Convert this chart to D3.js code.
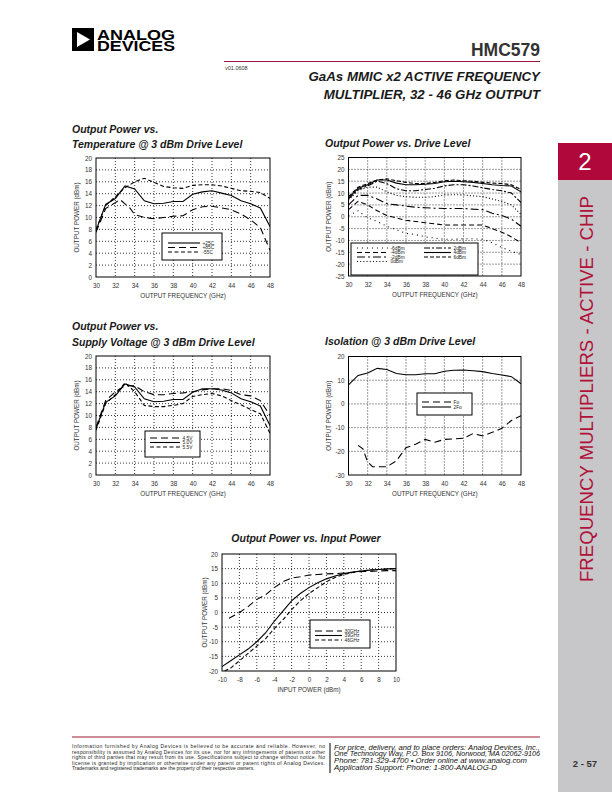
<!DOCTYPE html>
<html><head><meta charset="utf-8">
<script src="https://cdn.jsdelivr.net/npm/d3@7"></script>
<style>
body{margin:0;background:#fff;}
svg{display:block;font-family:"Liberation Sans",Arial,sans-serif;}
</style></head><body>
<svg id="page" width="612" height="792"></svg>
<script>
// ---------------- DATA ----------------
const freqGHz = [30,31,32,33,34,35,36,37,38,39,40,41,42,43,44,45,46,47,48];
const freqTicks = [30,32,34,36,38,40,42,44,46,48];

// Output Power vs Temperature
const temp25C  = [7.8,12.2,13.2,15.3,14.8,12.8,12.3,12.4,12.7,12.7,13.9,14.3,14.5,14.1,13.7,12.8,12.3,11.6,8.5];
const temp85Freq = [30,31,32,32.5,33,33.5,34,35,36,37,38,39,40,41,42,43,44,45,46,47,48];
const temp85C  = [7.5,11.5,12.5,13.0,12.3,11.6,10.5,10.0,9.8,10.0,10.2,10.3,11.3,11.8,11.9,11.6,11.3,10.6,9.6,8.3,4.5];
const tempM55C = [8.0,12.0,13.5,15.0,16.0,16.6,15.9,15.2,15.0,14.9,15.4,15.5,15.5,15.3,14.9,14.5,14.4,14.2,13.2];
const tempTicksY = [0,2,4,6,8,10,12,14,16,18,20];
const tempLabels = ["+25C","+85C","-55C"];

// Output Power vs Drive Level
const drvM6 = [0.5,2.5,-0.5,-2,-4,-5.5,-7,-7.5,-8.5,-9,-9.5,-9.5,-9.3,-9.3,-9.5,-11,-13,-14.5,-16];
const drvM4 = [3,6.5,5,2.5,0.5,-0.5,-1.5,-2,-2.5,-3,-3.5,-3.5,-3.5,-3.5,-3.5,-5,-6.5,-8.5,-11];
const drvM2 = [5,9,9,7.5,5.5,5,4.5,4,3.8,3.6,3.5,3.5,3.5,3.2,3,1.5,0.5,-1,-4];
const drv0  = [7,11,12.5,12.5,10.5,9,8.5,8.2,8.2,8.5,9.2,9.3,9.2,8.8,8.5,7.5,6.5,5,1];
const drv2  = [7.5,11.5,13,15,14,11.8,11,11,11.5,12,13,13.5,13.5,13,12.2,11.5,11,10,6];
const drv4  = [8,12,13.5,15.5,15.5,14.2,13.5,13.5,13.7,14,14.8,15,14.8,14.5,14,13.5,13.2,13,10.5];
const drv6  = [8.5,12.5,14,15.5,16,15.2,14.5,14,14,14.5,15.2,15.5,15.2,15,14.5,14.2,14,13.5,11.5];
const drvTicksY = [-25,-20,-15,-10,-5,0,5,10,15,20,25];
const drvLabels = ["-6dBm","-4dBm","-2dBm","0dBm","2dBm","4dBm","6dBm"];

// Output Power vs Supply Voltage
const volt45 = [8,12.5,14,15,15,14,13.5,13.5,13.7,13.8,14,14.3,14.5,14.5,14.2,13.5,13.3,12.5,10];
const volt50 = [7.8,12.2,13.3,15.3,14.8,12.8,12.3,12.4,12.7,12.7,13.9,14.5,14.5,14.3,13.8,12.8,12.3,11.6,8.3];
const volt55 = [7.5,12,13.5,15.5,14,11.7,11.5,11.5,11.7,12,13.2,13.5,13.7,13.3,12.5,11.8,11,10.3,7];
const voltLabels = ["4.5V","5.0V","5.5V"];

// Isolation
const iso2Fo = [8,12,13,15,14.5,12.8,12.3,12.3,12.7,12.7,13.8,14.2,14.3,14,13.6,12.8,12.2,11.5,8.5];
const isoFoFreq = [31,31.5,32,32.5,33,34,35,36,37,38,39,40,41,42,43,44,45,46,47,48];
const isoFo = [-17.5,-19,-24.5,-26.5,-26.5,-26.5,-24,-18.5,-17,-15,-16.2,-15,-14.8,-14.5,-12.5,-13.5,-12,-10.3,-7,-5];
const isoTicksY = [-30,-20,-10,0,10,20];
const isoLabels = ["Fo","2Fo"];

// Output Power vs Input Power
const pinDbm = [-10,-9,-8,-7,-6,-5,-4,-3,-2,-1,0,1,2,3,4,5,6,7,8,9,10];
const pin30In = [-9.2,-8,-7,-6,-5,-4,-3,-2,-1,0,1,2,3,4,5,6,7,8,9,10];
const pin30Out = [-2,0,2,4.5,6,8.5,10.5,11.8,12.2,12.8,13,13.2,13.3,13.5,13.7,14,14,14.2,14.3,14.3];
const pin39Out = [-18.5,-16.5,-14.5,-12.5,-10,-7,-3,0.5,4,6.5,8.5,10.2,11.5,12.5,13.3,13.8,14.2,14.5,14.7,14.9,15];
const pin46In = [-9.7,-9,-8,-7,-6,-5,-4,-3,-2,-1,0,1,2,3,4,5,6,7,8,9,10];
const pin46Out = [-20,-19,-16.5,-14,-11.5,-9,-5.5,-2.5,1,4,6.5,8.5,10.5,12,13,13.7,14.2,14.5,14.7,14.8,15];
const pinTicksX = [-10,-8,-6,-4,-2,0,2,4,6,8,10];
const pinTicksY = [-20,-15,-10,-5,0,5,10,15,20];
const pinLabels = ["30GHz","39GHz","46GHz"];

// ---------------- DRAWING ----------------
const FONT = '"Liberation Sans",Arial,sans-serif';
const svg = d3.select('#page');
const defs = svg.append('defs');
const RED = '#b0103a';

const DASH = {solid:null, long:'7,4', short:'4,2.5', dots:'1,4', fine:'1,2.2', med:'5,3', dashdot:'8,3,2,3', dashdot2:'6,2,2,2', short2:'4,2'};

function drawChart(o){
  const g = svg.append('g');
  const x = d3.scaleLinear().domain(o.xDomain).range([o.left,o.right]);
  const y = d3.scaleLinear().domain(o.yDomain).range([o.bottom,o.top]);
  g.selectAll('.vg').data(o.xTicks.slice(1,-1)).join('line')
    .attr('x1',d=>x(d)).attr('x2',d=>x(d)).attr('y1',o.top).attr('y2',o.bottom)
    .attr('stroke','#000').attr('stroke-width',0.8).attr('stroke-dasharray','1,2');
  g.selectAll('.hg').data(o.yTicks.slice(1,-1)).join('line')
    .attr('y1',d=>y(d)).attr('y2',d=>y(d)).attr('x1',o.left).attr('x2',o.right)
    .attr('stroke','#000').attr('stroke-width',0.8).attr('stroke-dasharray','1,2');
  const ax = g.append('g').attr('transform',`translate(0,${o.bottom})`)
    .call(d3.axisBottom(x).tickValues(o.xTicks).tickSize(0).tickPadding(7).tickFormat(d=>String(d)));
  const ay = g.append('g').attr('transform',`translate(${o.left},0)`)
    .call(d3.axisLeft(y).tickValues(o.yTicks).tickSize(0).tickPadding(4).tickFormat(d=>String(d)));
  [ax,ay].forEach(a=>{
    a.select('.domain').remove();
    a.attr('font-family',FONT).attr('font-size',6.3).attr('color','#333');
  });
  const cid = 'clip'+o.id;
  defs.append('clipPath').attr('id',cid).append('rect')
    .attr('x',o.left).attr('y',o.top).attr('width',o.right-o.left).attr('height',o.bottom-o.top);
  const line = d3.line().x(d=>x(d[0])).y(d=>y(d[1]));
  o.series.forEach(s=>{
    g.append('path').datum(s.x.map((v,i)=>[v,s.y[i]]))
      .attr('d',line).attr('fill','none').attr('stroke','#000').attr('stroke-width',1.1)
      .attr('stroke-dasharray',DASH[s.dash]).attr('clip-path',`url(#${cid})`);
  });
  const L = o.legend;
  g.append('rect').attr('x',L.x0).attr('y',L.y0).attr('width',L.x1-L.x0).attr('height',L.y1-L.y0)
    .attr('fill','#fff').attr('stroke','#000').attr('stroke-width',1);
  L.items.forEach(it=>{
    g.append('line').attr('x1',it.lx0).attr('x2',it.lx1).attr('y1',it.y).attr('y2',it.y)
      .attr('stroke','#000').attr('stroke-width',1.1).attr('stroke-dasharray',DASH[it.dash]);
    g.append('text').attr('x',it.lx1+2.5).attr('y',it.y+1.8).text(it.label)
      .attr('font-size',4.8).attr('font-family',FONT).attr('fill','#222');
  });
  g.append('rect').attr('x',o.left).attr('y',o.top).attr('width',o.right-o.left).attr('height',o.bottom-o.top)
    .attr('fill','none').attr('stroke','#000').attr('stroke-width',1);
  g.append('text').attr('x',(o.left+o.right)/2).attr('y',o.bottom+21).attr('text-anchor','middle')
    .attr('font-size',6.3).attr('font-family',FONT).attr('fill','#333').text(o.xTitle);
  g.append('text').attr('transform',`translate(${o.yTitleX},${(o.top+o.bottom)/2}) rotate(-90)`)
    .attr('text-anchor','middle').attr('font-size',6.3).attr('font-family',FONT).attr('fill','#333').text('OUTPUT POWER (dBm)');
  o.titles.forEach(t=>{
    g.append('text').attr('x',t.x).attr('y',t.y).attr('text-anchor',t.anchor||'start')
      .attr('font-size',10.5).attr('font-weight','bold').attr('font-style','italic')
      .attr('font-family',FONT).attr('fill','#1a1a1a').text(t.text);
  });
}

drawChart({id:1,left:96,right:270,top:158,bottom:277,xDomain:[30,48],yDomain:[0,20],
  xTicks:freqTicks,yTicks:tempTicksY,yTitleX:78.5,xTitle:'OUTPUT FREQUENCY (GHz)',
  titles:[{x:72,y:133,text:'Output Power vs.'},{x:72,y:148,text:'Temperature @ 3 dBm Drive Level'}],
  series:[{x:freqGHz,y:temp25C,dash:'solid'},{x:temp85Freq,y:temp85C,dash:'long'},{x:freqGHz,y:tempM55C,dash:'short'}],
  legend:{x0:162,y0:233,x1:222,y1:260,items:[
    {lx0:168,lx1:200,y:243,dash:'solid',label:tempLabels[0]},
    {lx0:168,lx1:200,y:247.5,dash:'long',label:tempLabels[1]},
    {lx0:168,lx1:200,y:252,dash:'short',label:tempLabels[2]}]}
});

drawChart({id:2,left:348.5,right:521,top:157.5,bottom:276,xDomain:[30,48],yDomain:[-25,25],
  xTicks:freqTicks,yTicks:drvTicksY,yTitleX:330.5,xTitle:'OUTPUT FREQUENCY (GHz)',
  titles:[{x:325,y:147,text:'Output Power vs. Drive Level'}],
  series:[{x:freqGHz,y:drvM6,dash:'dots'},{x:freqGHz,y:drvM4,dash:'med'},{x:freqGHz,y:drvM2,dash:'dashdot'},
          {x:freqGHz,y:drv0,dash:'fine'},{x:freqGHz,y:drv2,dash:'dashdot2'},{x:freqGHz,y:drv4,dash:'solid'},{x:freqGHz,y:drv6,dash:'short2'}],
  legend:{x0:351,y0:243,x1:478,y1:275,items:[
    {lx0:357,lx1:388,y:248,dash:'dots',label:drvLabels[0]},
    {lx0:357,lx1:388,y:252.5,dash:'med',label:drvLabels[1]},
    {lx0:357,lx1:388,y:257,dash:'dashdot',label:drvLabels[2]},
    {lx0:357,lx1:388,y:261.5,dash:'fine',label:drvLabels[3]},
    {lx0:424,lx1:451,y:248,dash:'dashdot2',label:drvLabels[4]},
    {lx0:424,lx1:451,y:252.5,dash:'solid',label:drvLabels[5]},
    {lx0:424,lx1:451,y:257,dash:'short2',label:drvLabels[6]}]}
});

drawChart({id:3,left:96,right:270,top:356,bottom:475,xDomain:[30,48],yDomain:[0,20],
  xTicks:freqTicks,yTicks:tempTicksY,yTitleX:78.5,xTitle:'OUTPUT FREQUENCY (GHz)',
  titles:[{x:72,y:330,text:'Output Power vs.'},{x:72,y:346,text:'Supply Voltage @ 3 dBm Drive Level'}],
  series:[{x:freqGHz,y:volt45,dash:'long'},{x:freqGHz,y:volt50,dash:'solid'},{x:freqGHz,y:volt55,dash:'short'}],
  legend:{x0:145,y0:431,x1:200,y1:457,items:[
    {lx0:150,lx1:180,y:438,dash:'long',label:voltLabels[0]},
    {lx0:150,lx1:180,y:442.5,dash:'solid',label:voltLabels[1]},
    {lx0:150,lx1:180,y:447,dash:'short',label:voltLabels[2]}]}
});

drawChart({id:4,left:348.5,right:521,top:356.5,bottom:475,xDomain:[30,48],yDomain:[-30,20],
  xTicks:freqTicks,yTicks:isoTicksY,yTitleX:331,xTitle:'OUTPUT FREQUENCY (GHz)',
  titles:[{x:325,y:345,text:'Isolation @ 3 dBm Drive Level'}],
  series:[{x:isoFoFreq,y:isoFo,dash:'long'},{x:freqGHz,y:iso2Fo,dash:'solid'}],
  legend:{x0:417,y0:393,x1:472,y1:415,items:[
    {lx0:422,lx1:451,y:402,dash:'long',label:isoLabels[0]},
    {lx0:422,lx1:451,y:407,dash:'solid',label:isoLabels[1]}]}
});

drawChart({id:5,left:222,right:396,top:554,bottom:671,xDomain:[-10,10],yDomain:[-20,20],
  xTicks:pinTicksX,yTicks:pinTicksY,yTitleX:206.5,xTitle:'INPUT POWER (dBm)',
  titles:[{x:306,y:542,text:'Output Power vs. Input Power',anchor:'middle'}],
  series:[{x:pin30In,y:pin30Out,dash:'long'},{x:pinDbm,y:pin39Out,dash:'solid'},{x:pin46In,y:pin46Out,dash:'short'}],
  legend:{x0:310,y0:620,x1:370,y1:648,items:[
    {lx0:315,lx1:342,y:631,dash:'long',label:pinLabels[0]},
    {lx0:315,lx1:342,y:635.5,dash:'solid',label:pinLabels[1]},
    {lx0:315,lx1:342,y:640,dash:'short',label:pinLabels[2]}]}
});

// ---------------- PAGE FURNITURE ----------------
svg.append('rect').attr('x',72).attr('y',28).attr('width',22).attr('height',23).attr('fill','#000');
svg.append('polygon').attr('points','77,32 77,47 90,39.5').attr('fill','#fff');
const logoText = svg.append('text').attr('font-size',14.5).attr('font-weight','bold').attr('font-family',FONT);
logoText.append('tspan').attr('x',97).attr('y',39.5).attr('textLength',78).attr('lengthAdjust','spacingAndGlyphs').text('ANALOG');
logoText.append('tspan').attr('x',97).attr('y',51).attr('textLength',78).attr('lengthAdjust','spacingAndGlyphs').text('DEVICES');

svg.append('text').attr('x',540).attr('y',55.5).attr('text-anchor','end').attr('font-size',17.5)
  .attr('font-weight','bold').attr('font-family',FONT).attr('fill','#333').text('HMC579');
svg.append('line').attr('x1',224).attr('x2',540).attr('y1',61.5).attr('y2',61.5).attr('stroke','#a0153a').attr('stroke-width',1);
svg.append('text').attr('x',225).attr('y',70).attr('font-size',5.5).attr('font-family',FONT).attr('fill','#333').text('v01.0608');
svg.append('text').attr('x',540).attr('y',81).attr('text-anchor','end').attr('font-size',13.3)
  .attr('font-weight','bold').attr('font-style','italic').attr('font-family',FONT).attr('fill','#1a1a1a').text('GaAs MMIC x2 ACTIVE FREQUENCY');
svg.append('text').attr('x',540).attr('y',99).attr('text-anchor','end').attr('font-size',13.3)
  .attr('font-weight','bold').attr('font-style','italic').attr('font-family',FONT).attr('fill','#1a1a1a').text('MULTIPLIER, 32 - 46 GHz OUTPUT');

svg.append('rect').attr('x',558).attr('y',180).attr('width',54).attr('height',612).attr('fill','#c7c7c9');
svg.append('rect').attr('x',558).attr('y',143).attr('width',54).attr('height',37).attr('fill','#b0083a');
svg.append('text').attr('x',585).attr('y',170).attr('text-anchor','middle').attr('font-size',24)
  .attr('font-family',FONT).attr('fill','#fff').text('2');
svg.append('text').attr('transform','translate(593,389) rotate(-90)').attr('text-anchor','middle')
  .attr('font-size',18).attr('font-family',FONT).attr('fill',RED)
  .attr('textLength',386).attr('lengthAdjust','spacingAndGlyphs').text('FREQUENCY MULTIPLIERS - ACTIVE - CHIP');

svg.append('line').attr('x1',72).attr('x2',540).attr('y1',737).attr('y2',737).attr('stroke','#9e1b32').attr('stroke-width',1);
const footLeft = [
 'Information furnished by Analog Devices is believed to be accurate and reliable. However, no',
 'responsibility is assumed by Analog Devices for its use, nor for any infringements of patents or other',
 'rights of third parties that may result from its use. Specifications subject to change without notice. No',
 'license is granted by implication or otherwise under any patent or patent rights of Analog Devices.',
 'Trademarks and registered trademarks are the property of their respective owners.'];
footLeft.forEach((t,i)=>{
  const tx = svg.append('text').attr('x',72).attr('y',748+i*5.6).attr('font-size',5.0)
    .attr('font-family',FONT).attr('fill','#222').text(t);
  if(i<4) tx.attr('textLength',253).attr('lengthAdjust','spacing');
});
svg.append('line').attr('x1',330).attr('x2',330).attr('y1',743).attr('y2',773).attr('stroke','#000').attr('stroke-width',1);
const footRight = [
 'For price, delivery, and to place orders: Analog Devices, Inc.,',
 'One Technology Way, P.O. Box 9106, Norwood, MA 02062-9106',
 'Phone: 781-329-4700 \u2022 Order online at www.analog.com',
 'Application Support: Phone: 1-800-ANALOG-D'];
footRight.forEach((t,i)=>{
  const tx = svg.append('text').attr('x',334).attr('y',749.5+i*6.7).attr('font-size',6.6)
    .attr('font-style','italic').attr('font-family',FONT).attr('fill','#111').text(t);
  if(i<2) tx.attr('textLength',206).attr('lengthAdjust','spacingAndGlyphs');
  else tx.attr('textLength',i===2?193:163).attr('lengthAdjust','spacingAndGlyphs');
});
svg.append('text').attr('x',585).attr('y',767).attr('text-anchor','middle').attr('font-size',9.5)
  .attr('font-weight','bold').attr('font-family',FONT).attr('fill','#333').text('2 - 57');
</script>
</body></html>
